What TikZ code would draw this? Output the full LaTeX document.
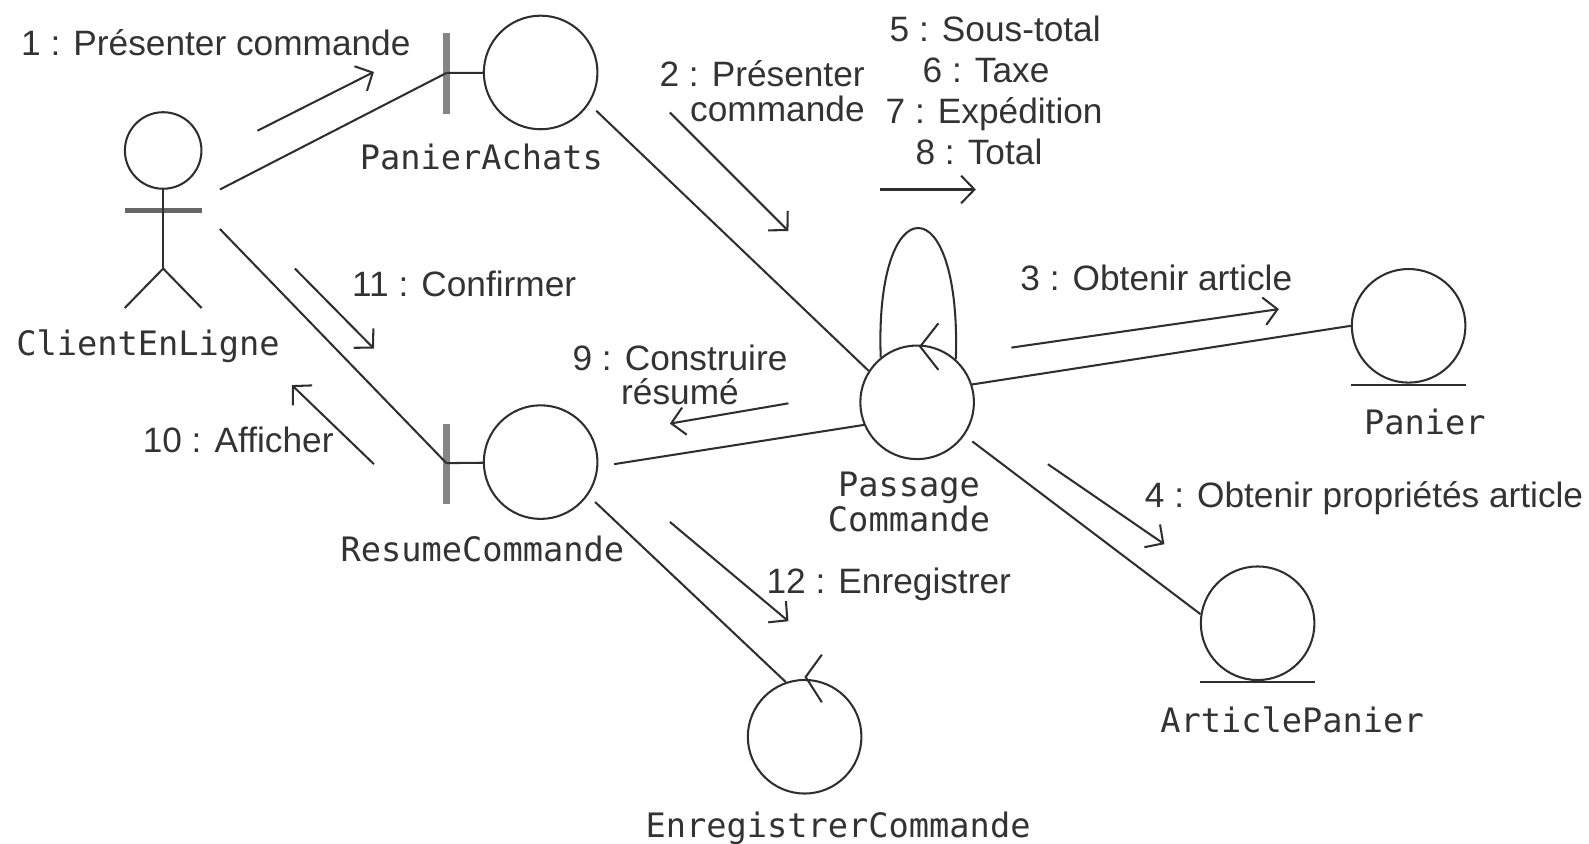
\documentclass[tikz,border=0pt]{standalone}
\usepackage{fontspec}
\setmainfont{Liberation Sans}
\setmonofont{DejaVu Sans Mono}
\usetikzlibrary{arrows.meta}
\tikzset{
  ligne/.style={line width=1.15pt,black!82},
  barre/.style={line width=4pt,black!48},
  fleche/.style={ligne,-{Straight Barb[length=7.5pt,width=15.5pt]}},
  rond/.style={circle,draw,line width=1.15pt,black!82,minimum size=63.8pt,inner sep=0pt},
  tete/.style={circle,draw,line width=1.15pt,black!82,minimum size=43pt,inner sep=0pt},
  msg/.style={align=center,inner sep=0pt,text=black!80,font=\fontsize{19.8}{19.4}\selectfont},
  classe/.style={align=center,inner sep=0pt,text=black!80,font=\fontsize{18.9}{19.5}\selectfont\ttfamily}
}
\begin{document}
\begin{tikzpicture}[x=0.02cm,y=-0.02cm]
\useasboundingbox (0,0) rectangle (1568,832);
%%Objets
\node[tete] (tete) at (161,148.5) {};
\node[rond] (panierachats) at (533.5,71.5) {};
\node[rond] (resumecommande) at (533.5,456) {};
\node[rond] (passage) at (905,397) {};
\node[rond] (panier) at (1390,321.5) {};
\node[rond] (articlepanier) at (1241,615) {};
\node[rond] (enregistrer) at (794,727) {};

%%Acteur
\coordinate (epauleg) at (123,207.5);
\coordinate (epauled) at (199,207.5);
\coordinate (bassin) at (161,265);
\coordinate (piedg) at (123,304);
\coordinate (piedd) at (199,304);
\draw[barre,line width=2.6pt,black!60] (epauleg) -- (epauled);
\draw[ligne] (tete) -- (bassin);
\draw[ligne] (piedg) -- (bassin) -- (piedd);

%%Frontieres
\coordinate (barrepa) at (440.5,72);
\coordinate (barrerc) at (440.5,457);
\draw[barre] (440.5,33) -- (440.5,112);
\draw[barre] (440.5,418) -- (440.5,497);
\draw[ligne] (barrepa) -- (panierachats);
\draw[ligne] (barrerc) -- (resumecommande);

%%Entites
\draw[ligne] (1333,380) -- (1447,380);
\draw[ligne] (1184,673) -- (1298,673);

%%Controles
\coordinate (ctrlp) at (908,342);
\coordinate (ctrlh) at (926,319);
\coordinate (ctrlb) at (926,365);
\draw[ligne] (ctrlh) -- (ctrlp) -- (ctrlb);
\coordinate (enrp) at (795,668);
\coordinate (enrh) at (811,646);
\coordinate (enrb) at (811,693);
\draw[ligne] (enrh) -- (enrp) -- (enrb);

%%Liens
\coordinate (clienta) at (217,187);
\coordinate (clientb) at (217,226);
\coordinate (resumeout) at (606,458);
\draw[ligne] (clienta) -- (barrepa);
\draw[ligne] (clientb) -- (barrerc);
\draw[ligne,shorten <=5.5pt] (panierachats.-33) -- (passage.147);
\draw[ligne] (resumeout) -- (passage.203);
\draw[ligne] (passage.18) -- (panier.180);
\draw[ligne,shorten <=5.5pt] (passage.-35) -- (articlepanier.171);
\draw[ligne,shorten <=5.5pt] (resumecommande.-35) -- (enregistrer.109);
\draw[ligne] (passage.129) .. controls (866,270) and (885,225) .. (906,225)
  .. controls (927,225) and (946,270) .. (passage.48);

%%Messages
\coordinate (m1a) at (254,129); \coordinate (m1b) at (369,71);
\coordinate (m2a) at (661,111); \coordinate (m2b) at (778,228);
\coordinate (m5a) at (868,187); \coordinate (m5b) at (963,187);
\coordinate (m3a) at (998,343); \coordinate (m3b) at (1262,305);
\coordinate (m11a) at (291,265); \coordinate (m11b) at (369,344);
\coordinate (m10a) at (369,458); \coordinate (m10b) at (288,380);
\coordinate (m9a) at (778,398); \coordinate (m9b) at (661,418);
\coordinate (m4a) at (1034,458); \coordinate (m4b) at (1149,537);
\coordinate (m12a) at (661,515); \coordinate (m12b) at (778,613);
\draw[fleche] (m1a) -- (m1b);
\draw[fleche] (m2a) -- (m2b);
\draw[fleche] (m5a) -- (m5b);
\draw[fleche] (m3a) -- (m3b);
\draw[fleche] (m11a) -- (m11b);
\draw[fleche] (m10a) -- (m10b);
\draw[fleche] (m9a) -- (m9b);
\draw[fleche] (m4a) -- (m4b);
\draw[fleche] (m12a) -- (m12b);

%%Noms
\node[classe] (nomclient) at (146,342) {ClientEnLigne};
\node[classe] (nompanierachats) at (475,155) {PanierAchats};
\node[classe] (nomresume) at (476,542) {ResumeCommande};
\node[classe] (nompassage) at (897,495) {Passage\\Commande};
\node[classe] (nompanier) at (1406,416) {Panier};
\node[classe] (nomarticle) at (1275,710) {ArticlePanier};
\node[classe] (nomenregistrer) at (827,817) {EnregistrerCommande};

%%Textes
\node[msg] (txt1) at (213,42) {1 : Présenter commande};
\node[msg,align=right] (txt2) at (752,90) {2 : Présenter\\commande};
\node[msg] (txt5) at (982,29) {5 : Sous-total};
\node[msg] (txt6) at (973,69) {6 : Taxe};
\node[msg] (txt7) at (981,113) {7 : Expédition};
\node[msg] (txt8) at (966,150) {8 : Total};
\node[msg] (txt3) at (1141,274) {3 : Obtenir article};
\node[msg] (txt11) at (458,280) {11 : Confirmer};
\node[msg] (txt10) at (235,434) {10 : Afficher};
\node[msg] (txt9) at (671,370) {9 : Construire\\résumé};
\node[msg] (txt4) at (1346,492) {4 : Obtenir propriétés article};
\node[msg] (txt12) at (877,577) {12 : Enregistrer};
\end{tikzpicture}
\end{document}
